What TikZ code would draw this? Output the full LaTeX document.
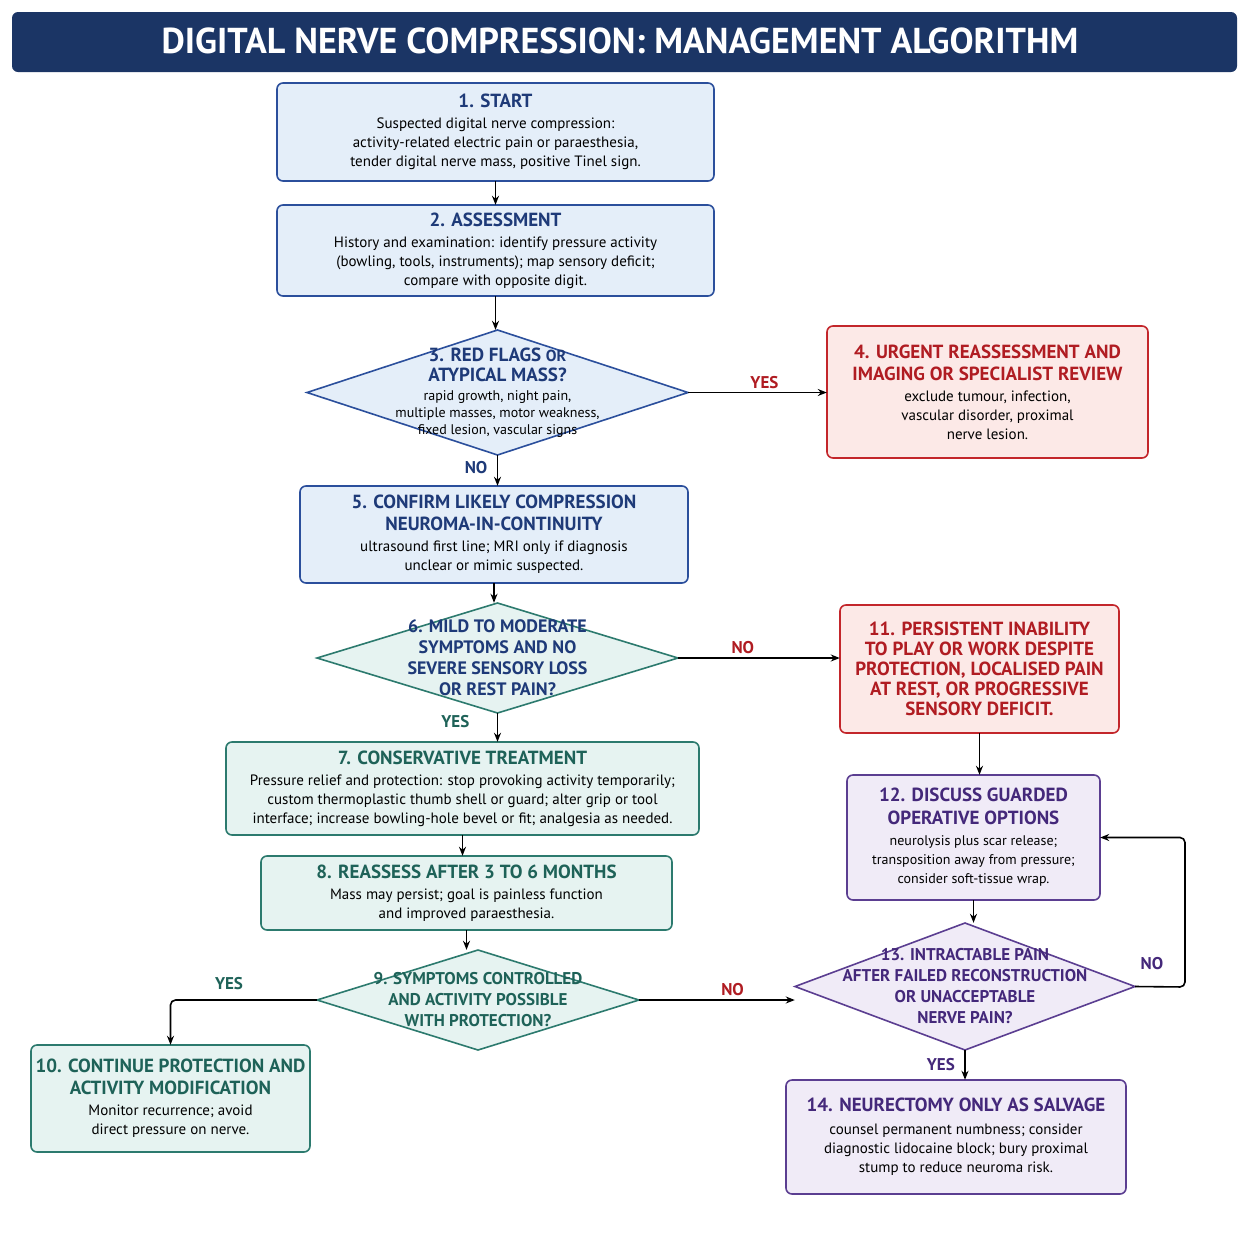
\documentclass[tikz,border=0pt]{standalone}
\usepackage{fontspec}
\setmainfont{PT Sans}
\usetikzlibrary{arrows.meta}
\definecolor{navy}{HTML}{1B3565}
\definecolor{bbord}{HTML}{2B4F9C}\definecolor{bfill}{HTML}{E4EEF9}\definecolor{btxt}{HTML}{1E3A78}
\definecolor{rbord}{HTML}{C3262B}\definecolor{rfill}{HTML}{FCE9E7}\definecolor{rtxt}{HTML}{B01C22}
\definecolor{tbord}{HTML}{2C7A6E}\definecolor{tfill}{HTML}{E6F3F1}\definecolor{ttxt}{HTML}{1E6258}
\definecolor{pbord}{HTML}{5B3E91}\definecolor{pfill}{HTML}{F0EBF7}\definecolor{ptxt}{HTML}{44287A}
\newcommand{\Tt}{\fontsize{19}{22}\selectfont\bfseries}
\newcommand{\Sm}{\fontsize{14}{16}\selectfont}
\tikzset{
 box/.style={draw=#1,line width=1.6pt,rounded corners=6pt},
 arr/.style={-{Stealth[length=9pt,width=7pt]},line width=1.6pt,black},
 lab/.style={font=\fontsize{17}{20}\selectfont\bfseries},
}
\newcommand{\bx}[8]{%
 \path[box=#6,fill=#7] (#2,#3) rectangle (#4,#5);
 \node[align=center,inner sep=0pt,font=\fontsize{15}{19}\selectfont] (#1) at ({(#2+#4)/2},{(#3+#5)/2}) [minimum width={#4-#2},minimum height={#5-#3}] {#8};}
\newcommand{\dm}[9]{%
 \draw[line width=1.6pt,draw=#6,fill=#7] (#2,{(#3+#5)/2})--({(#2+#4)/2},#3)--(#4,{(#3+#5)/2})--({(#2+#4)/2},#5)--cycle;
 \node[align=center,inner sep=0pt,font=#9] (#1) at ({(#2+#4)/2},{(#3+#5)/2}) [minimum width={#4-#2},minimum height={#5-#3}] {#8};}
\begin{document}
\begin{tikzpicture}[x=1pt,y=-1pt]
\useasboundingbox (0,0) rectangle (1254,1254);
\fill[white] (0,0) rectangle (1254,1254);
\fill[navy,rounded corners=6pt] (12,12) rectangle (1237,72);
\node[white,font=\fontsize{36}{40}\selectfont\bfseries] (title) at (620,41) {DIGITAL NERVE COMPRESSION: MANAGEMENT ALGORITHM};
\bx{n1}{277}{83}{714}{181}{bbord}{bfill}{{\Tt\color{btxt}1. START}\\[2pt] Suspected digital nerve compression:\\ activity-related electric pain or paraesthesia,\\ tender digital nerve mass, positive Tinel sign.}
\bx{n2}{277}{205}{714}{296}{bbord}{bfill}{{\Tt\color{btxt}2. ASSESSMENT}\\[2pt] History and examination: identify pressure activity\\ (bowling, tools, instruments); map sensory deficit;\\ compare with opposite digit.}
\dm{n3}{307}{330}{688}{455}{bbord}{bfill}{{\Tt\color{btxt}3. RED FLAGS {\fontsize{16}{18}\selectfont OR}}\\[3pt]{\Tt\color{btxt}ATYPICAL MASS?}\\[2pt] rapid growth, night pain,\\ multiple masses, motor weakness,\\ fixed lesion, vascular signs}{\fontsize{14}{17}\selectfont}
\bx{n4}{827}{326}{1148}{458}{rbord}{rfill}{{\Tt\color{rtxt}4. URGENT REASSESSMENT AND}\\[3pt]{\Tt\color{rtxt}IMAGING OR SPECIALIST REVIEW}\\[2pt] exclude tumour, infection,\\ vascular disorder, proximal\\ nerve lesion.}
\bx{n5}{300}{486}{688}{583}{bbord}{bfill}{{\Tt\color{btxt}5. CONFIRM LIKELY COMPRESSION}\\[3pt]{\Tt\color{btxt}NEUROMA-IN-CONTINUITY}\\[2pt] ultrasound first line; MRI only if diagnosis\\ unclear or mimic suspected.}
\dm{n6}{317}{603}{678}{713}{tbord}{tfill}{{\color{btxt}6. MILD TO MODERATE}\\{\color{btxt}SYMPTOMS AND NO}\\{\color{btxt}SEVERE SENSORY LOSS}\\{\color{btxt}OR REST PAIN?}}{\fontsize{18}{21}\selectfont\bfseries}
\bx{n11}{840}{605}{1119}{733}{rbord}{rfill}{{\Tt\color{rtxt}11. PERSISTENT INABILITY}\\[1pt]{\Tt\color{rtxt}TO PLAY OR WORK DESPITE}\\[1pt]{\Tt\color{rtxt}PROTECTION, LOCALISED PAIN}\\[1pt]{\Tt\color{rtxt}AT REST, OR PROGRESSIVE}\\[1pt]{\Tt\color{rtxt}SENSORY DEFICIT.}}
\bx{n7}{226}{742}{699}{835}{tbord}{tfill}{{\Tt\color{ttxt}7. CONSERVATIVE TREATMENT}\\[2pt] Pressure relief and protection: stop provoking activity temporarily;\\ custom thermoplastic thumb shell or guard; alter grip or tool\\ interface; increase bowling-hole bevel or fit; analgesia as needed.}
\bx{n8}{261}{856}{672}{930}{tbord}{tfill}{{\Tt\color{ttxt}8. REASSESS AFTER 3 TO 6 MONTHS}\\[2pt] Mass may persist; goal is painless function\\ and improved paraesthesia.}
\dm{n9}{317}{950}{639}{1050}{tbord}{tfill}{{\color{ttxt}9. SYMPTOMS CONTROLLED}\\{\color{ttxt}AND ACTIVITY POSSIBLE}\\{\color{ttxt}WITH PROTECTION?}}{\fontsize{17}{21}\selectfont\bfseries}
\bx{n10}{31}{1045}{310}{1152}{tbord}{tfill}{{\Tt\color{ttxt}10. CONTINUE PROTECTION AND}\\[3pt]{\Tt\color{ttxt}ACTIVITY MODIFICATION}\\[2pt] Monitor recurrence; avoid\\ direct pressure on nerve.}
\bx{n12}{847}{775}{1100}{900}{pbord}{pfill}{{\Tt\color{ptxt}12. DISCUSS GUARDED}\\[4pt]{\Tt\color{ptxt}OPERATIVE OPTIONS}\\[2pt]{\Sm neurolysis plus scar release;}\\{\Sm transposition away from pressure;}\\{\Sm consider soft-tissue wrap.}}
\dm{n13}{795}{923}{1135}{1050}{pbord}{pfill}{{\color{ptxt}13. INTRACTABLE PAIN}\\{\color{ptxt}AFTER FAILED RECONSTRUCTION}\\{\color{ptxt}OR UNACCEPTABLE}\\{\color{ptxt}NERVE PAIN?}}{\fontsize{17}{21}\selectfont\bfseries}
\bx{n14}{786}{1080}{1126}{1194}{pbord}{pfill}{{\Tt\color{ptxt}14. NEURECTOMY ONLY AS SALVAGE}\\[4pt] counsel permanent numbness; consider\\ diagnostic lidocaine block; bury proximal\\ stump to reduce neuroma risk.}
\draw[arr] (n1.south) -- (n1.south |- n2.north);
\draw[arr] (n2.south) -- (n2.south |- n3.north);
\draw[arr] (n3.east) -- (n3.east -| n4.west) node[pos=0.55,above,lab,text=rtxt] {YES};
\draw[arr] (n3.south) -- (n3.south |- n5.north) node[pos=0.4,left=6pt,lab,text=btxt] {NO};
\draw[arr] (n5.south) -- (n5.south |- n6.north);
\draw[arr] (n6.east) -- (n6.east -| n11.west) node[pos=0.4,above,lab,text=rtxt] {NO};
\draw[arr] (n6.south) -- (n6.south |- n7.north) node[pos=0.3,left=24pt,lab,text=ttxt] {YES};
\draw[arr] (n7.south) -- (n7.south |- n8.north);
\draw[arr] (n8.south) -- (n8.south |- n9.north);
\draw[arr,rounded corners=5pt] (n9.west) -| (n10.north) node[pos=0.3,above=6pt,lab,text=ttxt] {YES};
\draw[arr] (n9.east) -- (n9.east -| n13.west) node[pos=0.6,above,lab,text=rtxt] {NO};
\draw[arr] (n11.south) -- (n11.south |- n12.north);
\draw[arr] (n12.south) -- (n12.south |- n13.north);
\coordinate (c1) at (1185,987);
\draw[arr,rounded corners=5pt] (n13.east) -- (c1) |- (n12.east);
\node[lab,text=ptxt] (noL) at (1152,964) {NO};
\draw[arr] (n13.south) -- (n13.south |- n14.north) node[pos=0.5,left=6pt,lab,text=ptxt] {YES};
\end{tikzpicture}
\end{document}
